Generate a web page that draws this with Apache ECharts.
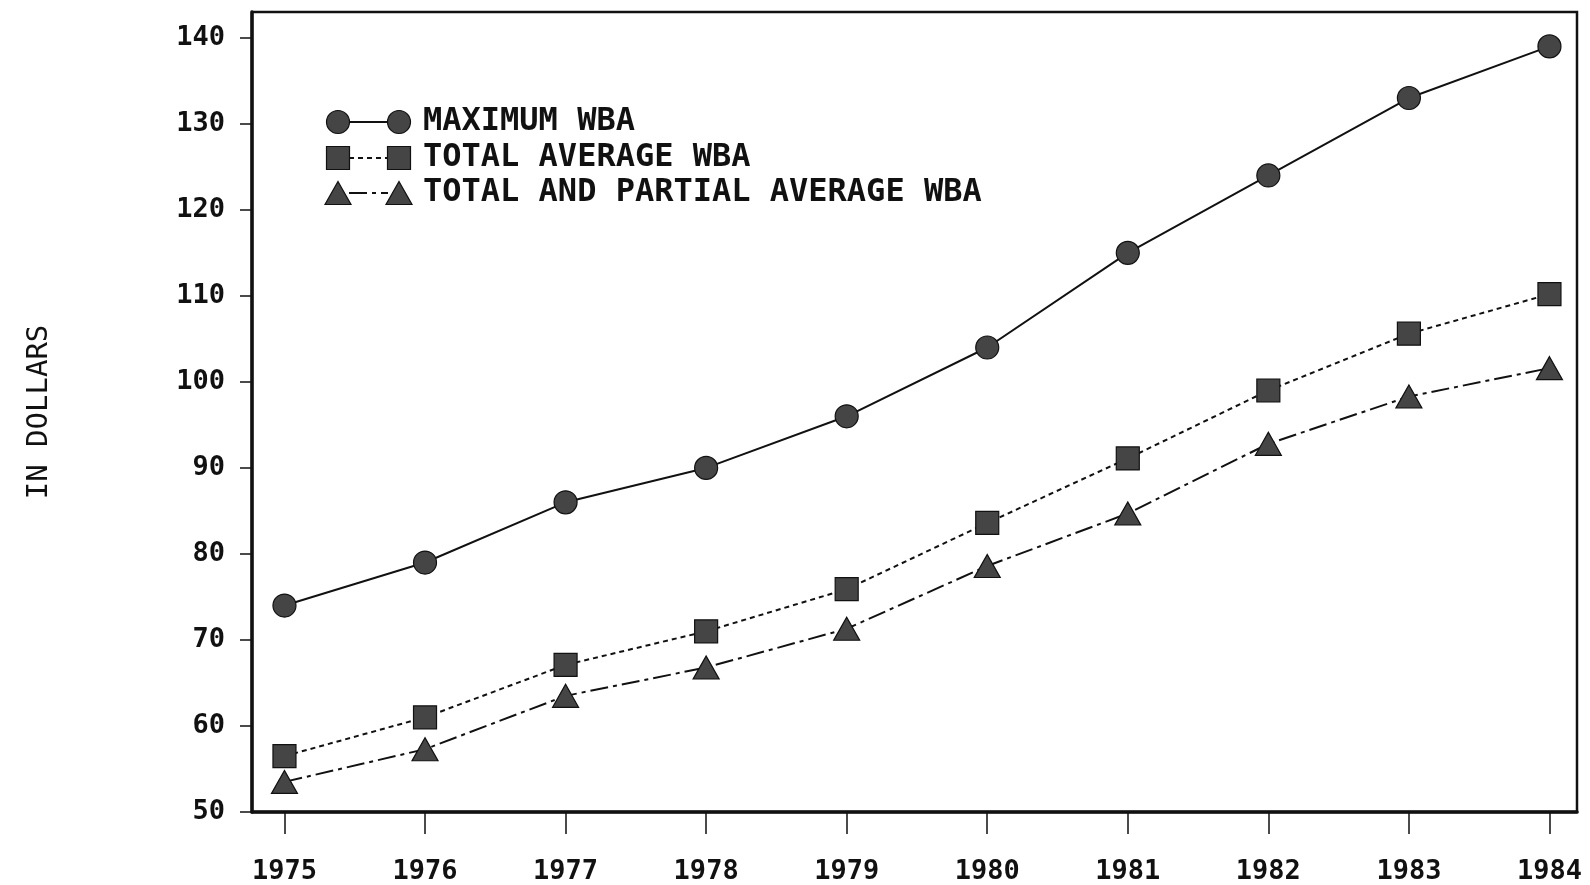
<!DOCTYPE html>
<html>
<head>
<meta charset="utf-8">
<script src="https://cdn.jsdelivr.net/npm/echarts@6/dist/echarts.min.js"></script>
<style>
  html, body { margin: 0; padding: 0; background: #fff; }
  #chart { width: 1590px; height: 885px; }
</style>
</head>
<body>
<div id="chart"></div>
<script>
// weekly benefit amounts, 1975-1984
const years = [1975, 1976, 1977, 1978, 1979, 1980, 1981, 1982, 1983, 1984];
const maximumWba = [74, 79, 86, 90, 96, 104, 115, 124, 133, 139];
const totalAverageWba = [56.5, 61, 67.1, 71, 75.9, 83.6, 91.1, 99, 105.6, 110.2];
const totalPartialWba = [53.5, 57.3, 63.5, 66.8, 71.3, 78.6, 84.7, 92.8, 98.3, 101.6];
const yTicks = [50, 60, 70, 80, 90, 100, 110, 120, 130, 140];

const seriesNames = ['MAXIMUM WBA', 'TOTAL AVERAGE WBA', 'TOTAL AND PARTIAL AVERAGE WBA'];

const FONT = '"DejaVu Sans Mono", monospace';
const INK = '#111';
const FILL = '#454545';

const styles = [
    { symbol: 'circle', size: 23, line: 'solid' },
    { symbol: 'rect', size: 23, line: [5, 4] },
    { symbol: 'triangle', size: [26, 23], line: [18, 5, 4, 5] }
];
const values = [maximumWba, totalAverageWba, totalPartialWba];

const series = seriesNames.map((name, i) => ({
    name,
    type: 'line',
    data: years.map((y, k) => [y, values[i][k]]),
    symbol: styles[i].symbol,
    symbolSize: styles[i].size,
    z: 3,
    lineStyle: { color: INK, width: 2, type: styles[i].line },
    itemStyle: { color: FILL, borderColor: INK, borderWidth: 1.2 }
}));

// legend drawn by hand: symbol — line — symbol, then label
const legendRowsY = [122, 158, 193];
const legendGraphic = [];
seriesNames.forEach((name, i) => {
    const cy = legendRowsY[i];
    const sz = Array.isArray(styles[i].size) ? styles[i].size : [styles[i].size, styles[i].size];
    legendGraphic.push({
        type: 'line',
        shape: { x1: 349, y1: cy, x2: 388, y2: cy },
        style: { stroke: INK, lineWidth: 2, lineDash: styles[i].line === 'solid' ? null : styles[i].line }
    });
    [338, 399].forEach(cx => {
        if (styles[i].symbol === 'circle') {
            legendGraphic.push({ type: 'circle', shape: { cx, cy, r: sz[0] / 2 },
                style: { fill: FILL, stroke: INK, lineWidth: 1.2 } });
        } else if (styles[i].symbol === 'rect') {
            legendGraphic.push({ type: 'rect', shape: { x: cx - sz[0] / 2, y: cy - sz[1] / 2, width: sz[0], height: sz[1] },
                style: { fill: FILL, stroke: INK, lineWidth: 1.2 } });
        } else {
            legendGraphic.push({ type: 'polygon',
                shape: { points: [[cx, cy - sz[1] / 2], [cx + sz[0] / 2, cy + sz[1] / 2], [cx - sz[0] / 2, cy + sz[1] / 2]] },
                style: { fill: FILL, stroke: INK, lineWidth: 1.2 } });
        }
    });
    legendGraphic.push({
        type: 'text',
        x: 423, y: cy,
        style: { text: name, font: 'bold 32px ' + FONT, fill: INK, verticalAlign: 'middle' }
    });
});

const chart = echarts.init(document.getElementById('chart'));
chart.setOption({
    backgroundColor: '#fff',
    animation: false,
    grid: {
        left: 252, right: 13, top: 12, bottom: 73,
        show: true, borderColor: INK, borderWidth: 2.5
    },
    xAxis: {
        type: 'value',
        min: 1974.769,
        max: 1984.196,
        splitLine: { show: false },
        axisLine: { lineStyle: { color: INK, width: 3.5 } },
        axisTick: { customValues: years, length: 22, lineStyle: { color: INK, width: 1.5 } },
        axisLabel: {
            customValues: years,
            margin: 46,
            color: INK,
            fontFamily: FONT,
            fontWeight: 'bold',
            fontSize: 27,
            formatter: v => String(v)
        }
    },
    yAxis: {
        type: 'value',
        min: 50,
        max: 143,
        name: 'IN DOLLARS',
        nameLocation: 'middle',
        nameRotate: 90,
        nameGap: 198,
        nameTextStyle: { fontFamily: FONT, fontSize: 29, color: INK },
        splitLine: { show: false },
        axisLine: { lineStyle: { color: INK, width: 3.5 } },
        axisTick: { customValues: yTicks, length: 12, lineStyle: { color: INK, width: 1.5 } },
        axisLabel: {
            customValues: yTicks,
            margin: 27,
            color: INK,
            fontFamily: FONT,
            fontWeight: 'bold',
            fontSize: 27
        }
    },
    graphic: legendGraphic,
    series
});
</script>
</body>
</html>
